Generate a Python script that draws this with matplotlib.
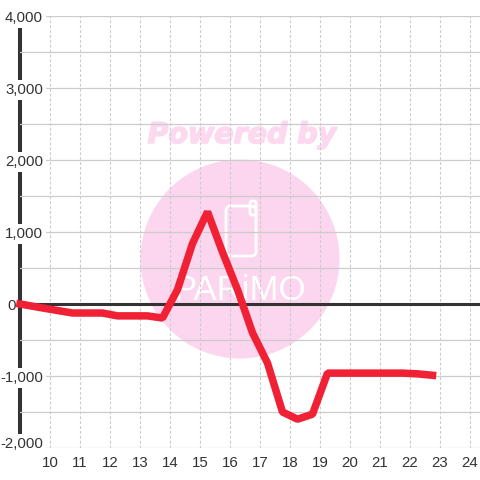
import matplotlib
matplotlib.use("Agg")
import matplotlib.pyplot as plt
import matplotlib.patheffects as pe
from matplotlib.patches import Circle, FancyBboxPatch
from matplotlib.transforms import Affine2D, ScaledTranslation

hours = [9.0, 9.25, 9.75, 10.25, 10.75, 11.25, 11.75, 12.25, 12.75, 13.25, 13.75,
         14.25, 14.75, 15.25, 15.75, 16.25, 16.75, 17.25, 17.75, 18.25, 18.75,
         19.25, 19.75, 20.25, 20.75, 21.25, 21.75, 22.25, 22.75]
values = [0, -18, -55, -90, -125, -125, -125, -165, -165, -165, -195,
          200, 840, 1280, 720, 200, -400, -820, -1500, -1600, -1530,
          -960, -960, -960, -960, -960, -960, -970, -990]
x_ticks = list(range(10, 25))
y_major = [-2000, -1000, 0, 1000, 2000, 3000, 4000]
y_minor = [-1500, -500, 500, 1500, 2500, 3500]

plt.rcParams['font.family'] = ['Liberation Sans', 'DejaVu Sans']
INK = '#333333'
GRID = '#cccccc'
PINK = '#fbd6ee'

fig = plt.figure(figsize=(4.8, 4.8), dpi=100, facecolor='white')
ax = fig.add_axes([20/480, 32/480, 460/480, 432/480])
ax.set_xlim(9, 9 + 460/30)
ax.set_ylim(-2000, 4000)
ax.set_axisbelow(False)

# watermark, placed in pixel coordinates
px = Affine2D().scale(1, -1).translate(0, 480)
ax.add_patch(Circle((240, 259), 99.5, transform=px, facecolor=PINK, edgecolor='none',
                    zorder=0.1, clip_on=False))
ax.text(242, 135, 'Powered by', transform=px, family='DejaVu Sans', weight='bold', style='oblique',
        fontsize=20.5, color='#fdd9f0', ha='center', va='center', zorder=0.1,
        path_effects=[pe.withStroke(linewidth=1.2, foreground='#fdd9f0')])
ax.add_patch(FancyBboxPatch((229, 209), 24, 44, boxstyle='round,pad=3,rounding_size=5', transform=px,
                            facecolor='none', edgecolor='white', linewidth=2, zorder=0.2))
ax.add_patch(FancyBboxPatch((251, 202), 4, 12, boxstyle='round,pad=1,rounding_size=2', transform=px,
                            facecolor='none', edgecolor='white', linewidth=2, zorder=0.2))
ax.text(239, 291, 'PARiMO', transform=px, fontsize=25, color='white', ha='center', va='center',
        zorder=0.2)

ax.set_xticks(x_ticks)
ax.set_yticks(y_major)
ax.set_yticks(y_minor, minor=True)
ax.grid(True, axis='y', which='both', color=GRID, linewidth=0.9)
ax.grid(True, axis='x', which='major', color=GRID, linewidth=0.8, linestyle=(0, (2.6, 1.8)))

for s in ['top', 'right', 'bottom']:
    ax.spines[s].set_visible(False)
ax.spines['left'].set_color(INK)
ax.spines['left'].set_linewidth(2.9)
ax.spines['left'].set_zorder(0.4)

ax.axhline(0, color=INK, linewidth=2.2, zorder=3)
ax.plot(hours, values, color='#f02035', linewidth=5.4, solid_joinstyle='bevel',
        solid_capstyle='projecting', zorder=4, clip_on=False)

ax.tick_params(axis='both', which='both', length=0)
ax.tick_params(axis='x', labelsize=10.8, labelcolor=INK, pad=6)
ax.tick_params(axis='y', labelsize=10.8, labelcolor=INK, pad=-16.6)
ax.set_yticklabels([f'{v:,}' for v in y_major])
labels = ax.get_yticklabels()
for lab in labels:
    if lab.get_text() != '0':
        lab.set_bbox(dict(facecolor='white', edgecolor='none', pad=2.2))
low = labels[0]
low.set_transform(low.get_transform() + ScaledTranslation(0, 0.06, fig.dpi_scale_trans))
zero = labels[y_major.index(0)]
zero.set_transform(zero.get_transform() + ScaledTranslation(-0.27, 0, fig.dpi_scale_trans))

fig.savefig('out.png', dpi=100, facecolor='white')
